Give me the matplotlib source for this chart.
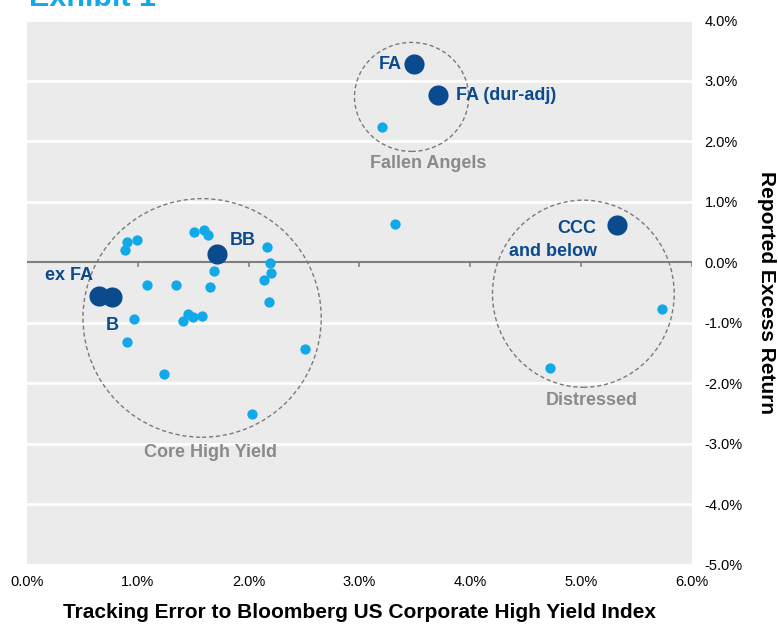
import numpy as np
from matplotlib import pyplot as plt
from matplotlib.patches import Ellipse
from matplotlib.ticker import FuncFormatter

plt.rcParams['font.family'] = ['Liberation Sans', 'DejaVu Sans']

# index points (big, dark blue)
idx_names = ['FA', 'FA (dur-adj)', 'BB', 'CCC', 'ex FA', 'B']
idx_te = [3.49, 3.71, 1.71, 5.32, 0.65, 0.77]
idx_ret = [3.27, 2.76, 0.13, 0.61, -0.56, -0.58]

# individual portfolios (small, light blue)
pt_te = [0.88, 0.90, 0.99, 1.51, 1.60, 1.63, 2.17, 2.19, 2.20, 2.14, 2.18, 1.69,
         1.08, 1.34, 1.65, 0.97, 1.41, 1.45, 1.50, 1.58, 0.90, 1.24, 2.51, 2.03,
         3.20, 3.32, 5.73, 4.72]
pt_ret = [0.21, 0.33, 0.36, 0.50, 0.54, 0.45, 0.25, -0.01, -0.18, -0.30, -0.66, -0.15,
          -0.38, -0.38, -0.41, -0.94, -0.97, -0.86, -0.90, -0.89, -1.31, -1.85, -1.44, -2.50,
          2.24, 0.63, -0.78, -1.75]

# groups: name, centre x, centre y, width, height
groups = [('Core High Yield', 1.58, -0.92, 2.15, 3.94),
          ('Fallen Angels', 3.47, 2.73, 1.03, 1.80),
          ('Distressed', 5.02, -0.52, 1.64, 3.09)]

xticks = [0, 1, 2, 3, 4, 5, 6]
yticks = [-5, -4, -3, -2, -1, 0, 1, 2, 3, 4]

dark = '#0b4a8c'
light = '#12a9e8'
grey_txt = '#8a8a8a'

fig = plt.figure(figsize=(7.78, 6.25), dpi=100)
ax = fig.add_axes([0.0347, 0.096, 0.8547, 0.872])
ax.set_facecolor('#ebebeb')
ax.set_xlim(0, 6)
ax.set_ylim(-5, 4)

for y in yticks:
    if y != 0:
        ax.axhline(y, color='white', lw=2, zorder=1)
ax.axhline(0, color='#7f7f7f', lw=1.5, zorder=2)
for x in xticks[1:]:
    ax.plot([x, x], [0, -0.07], color='#7f7f7f', lw=1.2, zorder=2)

for name, cx, cy, w, h in groups:
    ax.add_patch(Ellipse((cx, cy), w, h, fill=False, ls=(0, (3, 2)),
                         ec='#7a7a7a', lw=1.0, zorder=3))

ax.scatter(pt_te, pt_ret, s=55, color=light, zorder=4, lw=0)
ax.scatter(idx_te, idx_ret, s=210, color=dark, zorder=5, lw=0)

lab = dict(color=dark, fontsize=13, fontweight='bold', zorder=6)
ax.text(3.38, 3.27, 'FA', ha='right', va='center', **lab)
ax.text(3.87, 2.76, 'FA (dur-adj)', ha='left', va='center', **lab)
ax.text(1.83, 0.36, 'BB', ha='left', va='center', **lab)
ax.text(5.14, 0.55, 'CCC', ha='right', va='center', **lab)
ax.text(5.14, 0.18, 'and below', ha='right', va='center', **lab)
ax.text(0.60, -0.22, 'ex FA', ha='right', va='center', **lab)
ax.text(0.77, -1.04, 'B', ha='center', va='center', **lab)

grp = dict(color=grey_txt, fontsize=13, fontweight='bold', ha='center', va='center')
ax.text(1.66, -3.14, 'Core High Yield', **grp)
ax.text(3.62, 1.63, 'Fallen Angels', **grp)
ax.text(5.10, -2.29, 'Distressed', **grp)

ax.set_xticks(xticks)
ax.set_yticks(yticks)
fmt = FuncFormatter(lambda v, p: '%.1f%%' % v)
ax.xaxis.set_major_formatter(fmt)
ax.yaxis.set_major_formatter(fmt)
ax.yaxis.tick_right()
ax.yaxis.set_label_position('right')
ax.tick_params(axis='both', length=0, labelsize=10.5, colors='black')
ax.tick_params(axis='x', pad=7)
ax.tick_params(axis='y', pad=9)
for s in ax.spines.values():
    s.set_visible(False)

ax.set_xlabel('Tracking Error to Bloomberg US Corporate High Yield Index',
              fontsize=15, fontweight='bold', labelpad=10)
ax.set_ylabel('Reported Excess Return', fontsize=15, fontweight='bold',
              rotation=-90, labelpad=24)

fig.text(0.037, 1.003, 'Exhibit 1', color='#12a9e8', fontsize=22, fontweight='bold',
         ha='left', va='center')

fig.savefig('out.png', dpi=100)
